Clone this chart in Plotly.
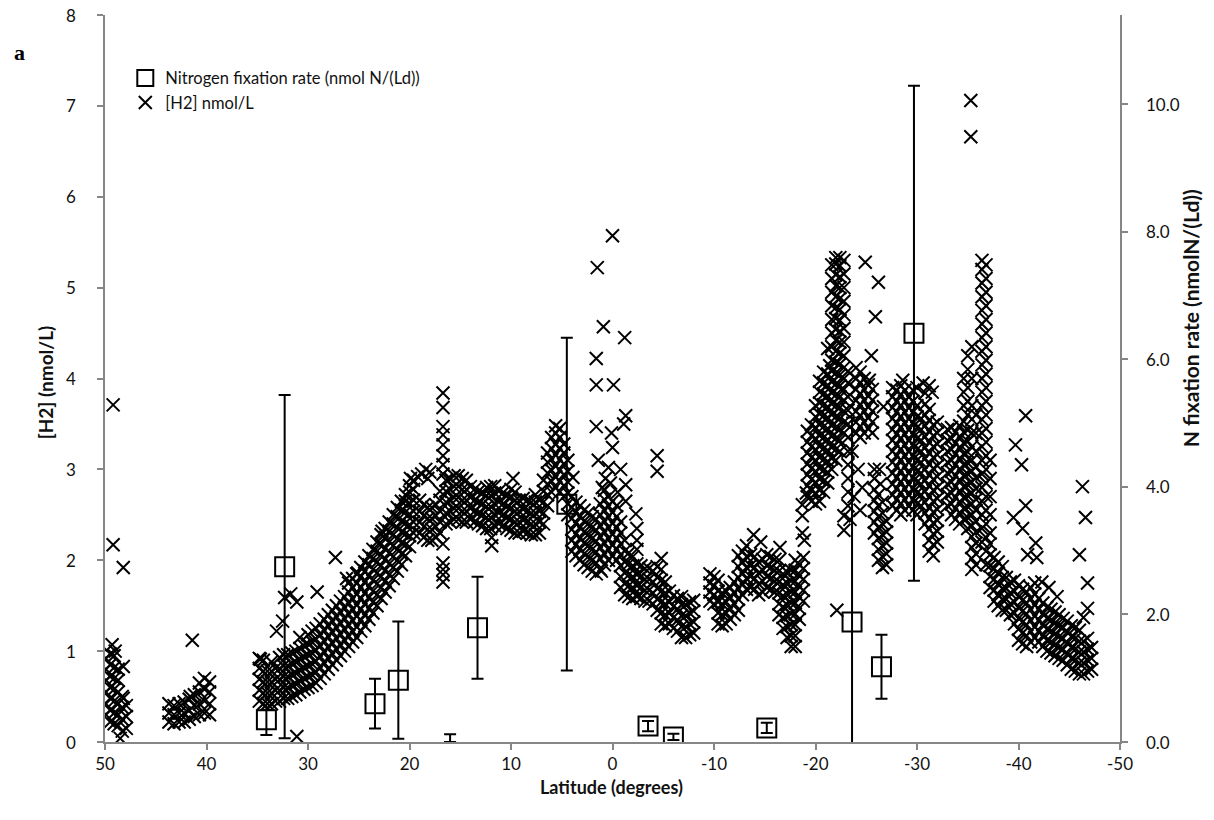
import plotly.graph_objects as go

# ---------------- data ----------------
x_tick_vals = [50, 40, 30, 20, 10, 0, -10, -20, -30, -40, -50]
x_tick_text = ["50", "40", "30", "20", "10", "0", "-10", "-20", "-30", "-40", "-50"]
y_tick_vals = [0, 1, 2, 3, 4, 5, 6, 7, 8]
y_tick_text = ["0", "1", "2", "3", "4", "5", "6", "7", "8"]
y2_tick_vals = [0, 2, 4, 6, 8, 10]
y2_tick_text = ["0.0", "2.0", "4.0", "6.0", "8.0", "10.0"]

# Nitrogen fixation rate (right axis, nmol N/(Ld)) with error bars
nfix_lat = [34.1, 32.3, 23.4, 21.1, 13.3, 4.5, -3.5, -6.0, -15.2, -23.6, -26.5, -29.7]
nfix_rate = [0.35, 2.75, 0.60, 0.97, 1.79, 3.73, 0.25, 0.08, 0.22, 1.88, 1.18, 6.41]
nfix_err_plus = [0.15, 2.69, 0.39, 0.92, 0.80, 2.61, 0.08, 0.05, 0.08, 3.21, 0.50, 3.88]
nfix_err_minus = [0.24, 2.69, 0.39, 0.92, 0.80, 2.61, 0.08, 0.05, 0.08, 3.21, 0.50, 3.88]
# station whose rate sits on the axis (only its error bar is visible)
nfix_zero_lat = [16.0]
nfix_zero_rate = [0.0]
nfix_zero_err = [0.12]

# [H2] survey (left axis, nmol/L): columns of (latitude, values observed at it)
h2_columns = [
    (49.9, [0.30, 0.42, 0.55, 0.68, 0.80, 0.92]),
    (49.5, [0.22, 0.35, 0.48, 0.60, 0.72, 0.85, 0.97]),
    (49.1, [0.20, 0.32, 0.45, 0.58, 0.70, 0.82, 0.95]),
    (48.7, [0.18, 0.30, 0.42, 0.55, 0.68, 0.80]),
    (48.3, [0.12, 0.25, 0.38, 0.50]),
    (47.9, [0.15, 0.28, 0.40]),
    (43.7, [0.22, 0.32, 0.42]),
    (43.2, [0.20, 0.30, 0.40]),
    (42.7, [0.22, 0.32, 0.42]),
    (42.2, [0.22, 0.32, 0.44]),
    (41.7, [0.25, 0.35, 0.47]),
    (41.2, [0.28, 0.40, 0.52]),
    (40.7, [0.30, 0.42, 0.55, 0.65]),
    (40.2, [0.32, 0.45, 0.58, 0.70]),
    (39.7, [0.30, 0.42, 0.55, 0.66]),
    (34.8, [0.45, 0.57, 0.69, 0.81, 0.92]),
    (34.4, [0.42, 0.54, 0.66, 0.78, 0.90]),
    (34.0, [0.42, 0.54, 0.66, 0.78]),
    (33.6, [0.42, 0.54, 0.66, 0.78, 0.88]),
    (33.2, [0.45, 0.57, 0.69, 0.81]),
    (32.8, [0.45, 0.57, 0.69, 0.81, 0.93]),
    (32.4, [0.48, 0.60, 0.72, 0.84, 0.96]),
    (32.0, [0.48, 0.60, 0.72, 0.84, 0.96]),
    (31.6, [0.50, 0.62, 0.74, 0.86, 0.98]),
    (31.2, [0.52, 0.64, 0.76, 0.88, 1.00]),
    (30.8, [0.55, 0.67, 0.79, 0.91, 1.03]),
    (30.4, [0.58, 0.70, 0.82, 0.94, 1.06]),
    (30.0, [0.60, 0.72, 0.84, 0.96, 1.08, 1.18]),
    (29.6, [0.62, 0.74, 0.86, 0.98, 1.10, 1.22]),
    (29.2, [0.65, 0.77, 0.89, 1.01, 1.13, 1.25]),
    (28.8, [0.70, 0.82, 0.94, 1.06, 1.18, 1.30]),
    (28.4, [0.75, 0.87, 0.99, 1.11, 1.23, 1.35]),
    (28.0, [0.80, 0.92, 1.04, 1.16, 1.28, 1.40]),
    (27.6, [0.85, 0.97, 1.09, 1.21, 1.33, 1.45]),
    (27.2, [0.90, 1.02, 1.14, 1.26, 1.38, 1.50]),
    (26.8, [0.95, 1.07, 1.19, 1.31, 1.43, 1.55]),
    (26.4, [1.00, 1.12, 1.24, 1.36, 1.48, 1.60]),
    (26.0, [1.05, 1.17, 1.29, 1.41, 1.53, 1.65, 1.75]),
    (25.6, [1.10, 1.22, 1.34, 1.46, 1.58, 1.70, 1.80]),
    (25.2, [1.15, 1.27, 1.39, 1.51, 1.63, 1.75, 1.85]),
    (24.8, [1.22, 1.34, 1.46, 1.58, 1.70, 1.82, 1.92]),
    (24.4, [1.28, 1.40, 1.52, 1.64, 1.76, 1.88, 1.98]),
    (24.0, [1.35, 1.47, 1.59, 1.71, 1.83, 1.95, 2.05]),
    (23.6, [1.42, 1.54, 1.66, 1.78, 1.90, 2.02, 2.12]),
    (23.2, [1.50, 1.62, 1.74, 1.86, 1.98, 2.10, 2.20]),
    (22.8, [1.58, 1.70, 1.82, 1.94, 2.06, 2.18, 2.28]),
    (22.4, [1.65, 1.77, 1.89, 2.01, 2.13, 2.25, 2.35]),
    (22.0, [1.72, 1.84, 1.96, 2.08, 2.20, 2.32, 2.42]),
    (21.6, [1.80, 1.92, 2.04, 2.16, 2.28, 2.40, 2.50]),
    (21.2, [1.88, 2.00, 2.12, 2.24, 2.36, 2.48, 2.58]),
    (20.8, [1.95, 2.07, 2.19, 2.31, 2.43, 2.55, 2.65]),
    (20.4, [2.05, 2.17, 2.29, 2.41, 2.53, 2.65, 2.72]),
    (20.0, [2.15, 2.27, 2.39, 2.51, 2.63, 2.75, 2.82]),
    (19.6, [2.30, 2.42, 2.54, 2.66, 2.78, 2.88]),
    (19.0, [2.30, 2.42, 2.54, 2.66]),
    (18.6, [2.25, 2.37, 2.49, 2.61]),
    (18.2, [2.22, 2.34, 2.46, 2.58]),
    (17.8, [2.22, 2.34, 2.46, 2.58]),
    (17.4, [2.25, 2.37, 2.49, 2.61]),
    (17.0, [2.30, 2.42, 2.54, 2.66, 2.76]),
    (16.7, [1.76, 1.84, 1.90, 1.97, 2.18, 2.95, 3.05, 3.15, 3.27, 3.38, 3.47, 3.68, 3.84]),
    (16.4, [2.40, 2.52, 2.64, 2.76, 2.88]),
    (16.0, [2.42, 2.54, 2.66, 2.78, 2.90]),
    (15.6, [2.45, 2.57, 2.69, 2.81, 2.93]),
    (15.2, [2.45, 2.57, 2.69, 2.81, 2.93]),
    (14.8, [2.42, 2.54, 2.66, 2.78, 2.90]),
    (14.4, [2.42, 2.54, 2.66, 2.78, 2.88]),
    (14.0, [2.45, 2.57, 2.69, 2.81]),
    (13.6, [2.42, 2.54, 2.66, 2.78]),
    (13.2, [2.40, 2.52, 2.64, 2.76]),
    (12.8, [2.38, 2.50, 2.62, 2.74]),
    (12.4, [2.35, 2.47, 2.59, 2.71, 2.80]),
    (12.0, [2.35, 2.47, 2.59, 2.71, 2.81]),
    (11.6, [2.38, 2.50, 2.62, 2.74, 2.82]),
    (11.2, [2.40, 2.52, 2.64, 2.76]),
    (10.8, [2.38, 2.50, 2.62, 2.74]),
    (10.4, [2.35, 2.47, 2.59, 2.71]),
    (10.0, [2.33, 2.45, 2.57, 2.69, 2.78]),
    (9.6, [2.30, 2.42, 2.54, 2.66, 2.75]),
    (9.2, [2.30, 2.42, 2.54, 2.66]),
    (8.8, [2.32, 2.44, 2.56, 2.68]),
    (8.4, [2.30, 2.42, 2.54, 2.66]),
    (8.0, [2.28, 2.40, 2.52, 2.64]),
    (7.6, [2.28, 2.40, 2.52, 2.64, 2.72]),
    (7.2, [2.30, 2.42, 2.54, 2.66]),
    (6.8, [2.40, 2.52, 2.64, 2.76, 2.88]),
    (6.4, [2.60, 2.72, 2.84, 2.96, 3.08, 3.18]),
    (6.0, [2.75, 2.87, 2.99, 3.11, 3.23, 3.35]),
    (5.6, [2.80, 2.92, 3.04, 3.16, 3.28, 3.40, 3.48]),
    (5.2, [2.75, 2.87, 2.99, 3.11, 3.23, 3.35, 3.45]),
    (4.8, [2.70, 2.82, 2.94, 3.06, 3.18, 3.28]),
    (4.4, [2.50, 2.62, 2.74, 2.86, 2.98, 3.10]),
    (4.0, [2.10, 2.22, 2.34, 2.46, 2.58, 2.70]),
    (3.6, [2.05, 2.17, 2.29, 2.41, 2.53, 2.64]),
    (3.2, [2.00, 2.12, 2.24, 2.36, 2.48, 2.60]),
    (2.8, [1.95, 2.07, 2.19, 2.31, 2.43, 2.55]),
    (2.4, [1.92, 2.04, 2.16, 2.28, 2.40, 2.52]),
    (2.0, [1.88, 2.00, 2.12, 2.24, 2.36, 2.48]),
    (1.6, [1.85, 1.97, 2.09, 2.21, 2.33, 2.45]),
    (1.2, [1.90, 2.02, 2.14, 2.26, 2.38, 2.50, 2.62]),
    (0.8, [1.95, 2.07, 2.19, 2.31, 2.43, 2.55, 2.67, 2.77]),
    (0.4, [2.00, 2.12, 2.24, 2.36, 2.48, 2.60, 2.70]),
    (0.0, [2.05, 2.17, 2.29, 2.41, 2.53, 2.65]),
    (-0.4, [2.00, 2.12, 2.24, 2.36, 2.48, 2.60]),
    (-0.8, [1.70, 1.82, 1.94, 2.06, 2.18, 2.30, 2.42]),
    (-1.2, [1.62, 1.74, 1.86, 1.98, 2.10, 2.22]),
    (-1.6, [1.60, 1.72, 1.84, 1.96, 2.08]),
    (-2.0, [1.58, 1.70, 1.82, 1.94, 2.04]),
    (-2.4, [1.60, 1.72, 1.84, 1.96]),
    (-2.8, [1.58, 1.70, 1.82, 1.94]),
    (-3.2, [1.55, 1.67, 1.79, 1.91]),
    (-3.6, [1.55, 1.67, 1.79, 1.91]),
    (-4.0, [1.52, 1.64, 1.76, 1.88]),
    (-4.4, [1.45, 1.57, 1.69, 1.81, 1.93]),
    (-4.8, [1.30, 1.42, 1.54, 1.66, 1.78, 1.90, 2.02]),
    (-5.2, [1.28, 1.40, 1.52, 1.64, 1.76]),
    (-5.6, [1.30, 1.42, 1.54, 1.66]),
    (-6.0, [1.25, 1.37, 1.49, 1.61]),
    (-6.4, [1.22, 1.34, 1.46, 1.58]),
    (-6.8, [1.15, 1.27, 1.39, 1.51, 1.60]),
    (-7.2, [1.15, 1.27, 1.39, 1.51]),
    (-7.6, [1.18, 1.30, 1.42, 1.54]),
    (-8.0, [1.20, 1.32, 1.44, 1.56]),
    (-9.6, [1.55, 1.65, 1.75, 1.85]),
    (-10.0, [1.52, 1.62, 1.72, 1.82]),
    (-10.4, [1.30, 1.42, 1.54, 1.66, 1.78]),
    (-10.8, [1.28, 1.40, 1.52, 1.64]),
    (-11.2, [1.30, 1.42, 1.54, 1.66]),
    (-11.6, [1.35, 1.47, 1.59, 1.70]),
    (-12.0, [1.40, 1.52, 1.64, 1.76]),
    (-12.4, [1.45, 1.57, 1.69, 1.81, 1.93, 2.05]),
    (-12.8, [1.62, 1.74, 1.86, 1.98, 2.10]),
    (-13.2, [1.68, 1.80, 1.92, 2.04, 2.16]),
    (-13.6, [1.70, 1.82, 1.94, 2.06]),
    (-14.0, [1.68, 1.80, 1.92, 2.04]),
    (-14.4, [1.62, 1.74, 1.86, 1.98]),
    (-14.8, [1.65, 1.77, 1.89, 2.01]),
    (-15.2, [1.70, 1.82, 1.94, 2.06]),
    (-15.6, [1.68, 1.80, 1.92, 2.04]),
    (-16.0, [1.65, 1.77, 1.89, 2.01]),
    (-16.4, [1.40, 1.52, 1.64, 1.76, 1.88, 2.00]),
    (-16.8, [1.25, 1.37, 1.49, 1.61, 1.73, 1.85]),
    (-17.2, [1.15, 1.27, 1.39, 1.51, 1.63, 1.75, 1.87]),
    (-17.6, [1.05, 1.17, 1.29, 1.41, 1.53, 1.65, 1.77, 1.89]),
    (-18.0, [1.05, 1.17, 1.29, 1.41, 1.53, 1.65, 1.77, 1.89, 2.00]),
    (-18.4, [1.35, 1.47, 1.59, 1.71, 1.83, 1.95]),
    (-18.8, [1.55, 1.67, 1.79, 1.91, 2.03]),
    (-19.2, [2.70, 2.82, 2.94, 3.06, 3.18, 3.30, 3.42]),
    (-19.6, [2.65, 2.77, 2.89, 3.01, 3.13, 3.25, 3.37, 3.49]),
    (-20.0, [2.62, 2.74, 2.86, 2.98, 3.10, 3.22, 3.34, 3.46, 3.58, 3.70]),
    (-20.4, [2.65, 2.77, 2.89, 3.01, 3.13, 3.25, 3.37, 3.49, 3.61, 3.73, 3.85, 3.97]),
    (-20.8, [2.75, 2.87, 2.99, 3.11, 3.23, 3.35, 3.47, 3.59, 3.71, 3.83, 3.95, 4.07]),
    (-21.2, [2.85, 2.97, 3.09, 3.21, 3.33, 3.45, 3.57, 3.69, 3.81, 3.93, 4.05]),
    (-21.6, [3.00, 3.12, 3.24, 3.36, 3.48, 3.60, 3.72, 3.84, 3.96, 4.08, 4.20, 4.35, 4.50, 4.65, 4.80, 4.95, 5.10, 5.25]),
    (-22.0, [3.10, 3.22, 3.34, 3.46, 3.58, 3.70, 3.82, 3.94, 4.06, 4.18, 4.30, 4.42, 4.54, 4.66, 4.78, 4.90, 5.02, 5.14, 5.26, 5.33]),
    (-22.4, [3.20, 3.32, 3.44, 3.56, 3.68, 3.80, 3.92, 4.04, 4.16, 4.28, 4.40, 4.52, 4.64, 4.76, 4.88, 5.00, 5.12, 5.24, 5.33]),
    (-22.8, [3.40, 3.52, 3.64, 3.76, 3.88, 4.00, 4.12, 4.25, 4.40, 4.55, 4.70, 4.85, 5.00, 5.15, 5.30]),
    (-23.2, [2.60, 2.75, 2.90, 3.05, 3.20, 3.35, 3.50, 3.65, 3.80, 3.95, 4.08]),
    (-24.0, [3.40, 3.52, 3.64, 3.76, 3.88, 4.00, 4.12]),
    (-24.4, [3.35, 3.47, 3.59, 3.71, 3.83, 3.95, 4.07]),
    (-24.8, [3.40, 3.52, 3.64, 3.76, 3.88, 4.00]),
    (-25.2, [3.45, 3.57, 3.69, 3.81, 3.93]),
    (-25.6, [3.40, 3.52, 3.64, 3.76, 3.88]),
    (-25.8, [2.30, 2.42, 2.54, 2.66, 2.78, 2.90, 3.00]),
    (-26.2, [2.00, 2.12, 2.24, 2.36, 2.48, 2.60, 2.72]),
    (-26.6, [1.92, 2.04, 2.16, 2.28, 2.40, 2.52, 2.64]),
    (-27.0, [1.95, 2.07, 2.19, 2.31, 2.43]),
    (-27.6, [2.60, 2.72, 2.84, 2.96, 3.08, 3.20, 3.32, 3.44, 3.56, 3.68, 3.80, 3.90]),
    (-28.0, [2.55, 2.67, 2.79, 2.91, 3.03, 3.15, 3.27, 3.39, 3.51, 3.63, 3.75, 3.87]),
    (-28.4, [2.50, 2.62, 2.74, 2.86, 2.98, 3.10, 3.22, 3.34, 3.46, 3.58, 3.70, 3.82, 3.92]),
    (-28.8, [2.55, 2.67, 2.79, 2.91, 3.03, 3.15, 3.27, 3.39, 3.51, 3.63, 3.75, 3.87]),
    (-29.2, [2.60, 2.72, 2.84, 2.96, 3.08, 3.20, 3.32, 3.44, 3.56, 3.68, 3.80]),
    (-29.6, [2.55, 2.67, 2.79, 2.91, 3.03, 3.15, 3.27, 3.39, 3.51, 3.63, 3.75, 3.87]),
    (-30.0, [2.50, 2.62, 2.74, 2.86, 2.98, 3.10, 3.22, 3.34, 3.46, 3.58, 3.70]),
    (-30.4, [2.60, 2.72, 2.84, 2.96, 3.08, 3.20, 3.32, 3.44, 3.56]),
    (-30.8, [2.40, 2.52, 2.64, 2.76, 2.88, 3.00, 3.12, 3.24, 3.36, 3.48, 3.60, 3.72, 3.84]),
    (-31.2, [2.10, 2.22, 2.34, 2.46, 2.58, 2.70, 2.82, 2.94, 3.06, 3.18, 3.30, 3.42, 3.54, 3.66]),
    (-31.6, [2.05, 2.17, 2.29, 2.41, 2.53, 2.65, 2.77, 2.89, 3.01, 3.13, 3.25, 3.37, 3.49]),
    (-32.0, [2.20, 2.32, 2.44, 2.56, 2.68, 2.80, 2.92, 3.04, 3.16, 3.28, 3.40, 3.52]),
    (-33.0, [2.60, 2.72, 2.84, 2.96, 3.08, 3.20, 3.32, 3.44]),
    (-33.4, [2.50, 2.62, 2.74, 2.86, 2.98, 3.10, 3.22, 3.34, 3.46]),
    (-33.8, [2.45, 2.57, 2.69, 2.81, 2.93, 3.05, 3.17, 3.29, 3.41]),
    (-34.2, [2.40, 2.52, 2.64, 2.76, 2.88, 3.00, 3.12, 3.24, 3.36, 3.48]),
    (-34.6, [2.45, 2.57, 2.69, 2.81, 2.93, 3.05, 3.17, 3.29, 3.41, 3.53, 3.70, 3.85, 4.00]),
    (-35.0, [2.35, 2.47, 2.59, 2.71, 2.83, 2.95, 3.07, 3.19, 3.31, 3.43, 3.60, 3.75, 3.90, 4.10, 4.25]),
    (-35.4, [1.90, 2.02, 2.14, 2.26, 2.38, 2.50, 2.62, 2.74, 2.86, 2.98, 3.10, 3.25, 3.40, 3.55, 3.70, 4.00, 4.35]),
    (-35.8, [1.95, 2.07, 2.19, 2.31, 2.43, 2.55, 2.67, 2.79, 2.91, 3.03, 3.20, 3.40, 3.60]),
    (-36.4, [2.20, 2.35, 2.50, 2.65, 2.80, 2.95, 3.10, 3.25, 3.40, 3.55, 3.70, 3.85, 4.00, 4.15, 4.30, 4.45, 4.60, 4.75, 4.90, 5.05, 5.20, 5.30]),
    (-36.8, [1.95, 2.10, 2.25, 2.40, 2.55, 2.70, 2.85, 3.00, 3.15, 3.30, 3.45, 3.60, 3.75, 3.90, 4.05, 4.20, 4.35, 4.50, 4.65, 4.80, 4.95, 5.10, 5.25]),
    (-37.2, [1.70, 1.82, 1.94, 2.06, 2.18, 2.30, 2.50, 2.70, 2.90, 3.10]),
    (-37.6, [1.55, 1.67, 1.79, 1.91, 2.03]),
    (-38.0, [1.50, 1.62, 1.74, 1.86, 1.98]),
    (-38.4, [1.45, 1.57, 1.69, 1.81, 1.93]),
    (-38.8, [1.45, 1.57, 1.69, 1.81]),
    (-39.2, [1.40, 1.52, 1.64, 1.76]),
    (-39.6, [1.30, 1.42, 1.54, 1.66, 1.78]),
    (-40.0, [1.12, 1.24, 1.36, 1.48, 1.60, 1.72]),
    (-40.4, [1.08, 1.20, 1.32, 1.44, 1.56, 1.68]),
    (-40.8, [1.05, 1.17, 1.29, 1.41, 1.53, 1.65]),
    (-41.2, [1.10, 1.22, 1.34, 1.46, 1.58, 1.70]),
    (-41.6, [1.15, 1.27, 1.39, 1.51, 1.63, 1.75]),
    (-42.0, [1.10, 1.22, 1.34, 1.46, 1.58]),
    (-42.4, [1.05, 1.17, 1.29, 1.41, 1.53]),
    (-42.8, [1.00, 1.12, 1.24, 1.36, 1.48]),
    (-43.2, [0.98, 1.10, 1.22, 1.34, 1.46]),
    (-43.6, [0.95, 1.07, 1.19, 1.31, 1.43]),
    (-44.0, [0.92, 1.04, 1.16, 1.28, 1.40]),
    (-44.4, [0.90, 1.02, 1.14, 1.26, 1.36]),
    (-44.8, [0.85, 0.97, 1.09, 1.21, 1.33]),
    (-45.2, [0.80, 0.92, 1.04, 1.16, 1.28]),
    (-45.6, [0.78, 0.90, 1.02, 1.14, 1.26]),
    (-46.0, [0.75, 0.87, 0.99, 1.11, 1.23]),
    (-46.4, [0.75, 0.87, 0.99, 1.11]),
    (-46.8, [0.78, 0.90, 1.02, 1.14]),
    (-47.2, [0.80, 0.92, 1.04]),
]

# isolated [H2] samples
h2_out_lat = [49.2, 49.2, 48.2, 49.3, 49.0, 48.2, 48.5, 48.2, 41.4, 41.6,
              34.7, 33.1, 32.3, 32.5, 31.1, 31.7, 30.8, 29.1, 27.3, 26.2, 25.1, 22.7, 19.9, 31.1,
              19.2, 18.8, 18.4, 18.2, 18.0, 9.8, 11.9, 11.9, 3.9,
              0.0, 1.5, 0.9, -1.2, 1.6, 1.6, -0.1, 1.6, -1.3, -1.1, 0.1, 0.0, 1.4, 0.4,
              -1.3, -1.3, -2.3, -2.4, -2.4, -2.4, 1.1, -4.4, -4.4, 0.7, 1.0, 0.2, -0.5, -0.8,
              -13.9, -14.6, -16.5, -18.7, -18.7, -18.7, -19.1, -18.9,
              -21.2, -21.4, -22.8, -22.8, -22.1, -23.4, -23.8, -24.2, -23.6, -24.4, -24.6,
              -24.9, -26.2, -25.9, -25.5, -25.3, -26.7, -26.3, -26.4,
              -30.6, -31.5, -31.2, -28.6, -30.0, -35.3, -35.3,
              -39.7, -40.3, -40.7, -39.5, -40.7, -40.4, -40.9, -41.7, -41.8, -42.3, -43.0, -43.8,
              -46.3, -46.6, -46.0, -46.8, -46.8, -46.4]
h2_out_val = [3.71, 2.17, 1.92, 1.07, 1.00, 0.83, 0.04, 0.48, 1.12, 0.50,
              0.91, 1.22, 1.59, 1.33, 1.54, 1.63, 1.15, 1.65, 2.03, 1.80, 1.86, 2.32, 2.90, 0.06,
              2.92, 2.95, 3.00, 2.90, 2.97, 2.90, 2.16, 2.25, 2.91,
              5.57, 5.22, 4.57, 4.45, 4.22, 3.93, 3.93, 3.47, 3.59, 3.50, 3.40, 3.24, 3.10, 3.02,
              2.83, 2.65, 2.51, 2.35, 2.22, 2.12, 1.88, 3.15, 2.98, 2.90, 2.80, 2.85, 2.75, 3.00,
              2.28, 2.20, 2.14, 2.61, 2.49, 2.30, 2.74, 2.22,
              4.33, 4.14, 2.49, 2.33, 1.45, 2.45, 2.70, 3.00, 3.20, 2.55, 2.80,
              5.28, 5.06, 4.68, 4.25, 3.98, 3.69, 3.00, 2.84,
              3.95, 3.85, 3.92, 3.98, 3.90, 7.06, 6.66,
              3.27, 3.05, 3.59, 2.47, 2.60, 2.35, 2.06, 2.19, 2.03, 1.76, 1.70, 1.60,
              2.81, 2.47, 2.06, 1.75, 1.47, 1.37]

# ---------------- build traces ----------------
h2_lat, h2_val = [], []
for lat, vals in h2_columns:
    for v in vals:
        h2_lat.append(lat)
        h2_val.append(v)
h2_lat += h2_out_lat
h2_val += h2_out_val

FONT = "Lato, 'Open Sans', sans-serif"
AX = "#868686"
TXT = "#111111"

fig = go.Figure()

fig.add_trace(go.Scatter(
    x=nfix_lat, y=nfix_rate, yaxis="y2", mode="markers",
    name="Nitrogen fixation rate (nmol N/(Ld))",
    marker=dict(symbol="square-open", size=19, color="black", line=dict(width=2, color="black")),
    error_y=dict(type="data", symmetric=False, array=nfix_err_plus, arrayminus=nfix_err_minus,
                 color="black", thickness=2, width=6),
))
fig.add_trace(go.Scatter(
    x=nfix_zero_lat, y=nfix_zero_rate, yaxis="y2", mode="markers", showlegend=False,
    marker=dict(size=1, color="rgba(0,0,0,0)"),
    error_y=dict(type="data", symmetric=False, array=nfix_zero_err, arrayminus=[0],
                 color="black", thickness=2, width=6),
))
fig.add_trace(go.Scatter(
    x=h2_lat, y=h2_val, mode="markers", name="[H2] nmol/L",
    marker=dict(symbol="x-thin", size=13, color="black", line=dict(width=2, color="black")),
))

axis_common = dict(showgrid=False, zeroline=False, showline=True, linecolor=AX, linewidth=1.5,
                   ticks="outside", ticklen=6, tickcolor=AX, tickwidth=1.5,
                   tickfont=dict(size=17, color=TXT))

# y tick labels set further from the axis lines, as in the reference
tick_annots = []
for v, t in zip(y_tick_vals, y_tick_text):
    tick_annots.append(dict(text=t, xref="paper", yref="y", x=0, y=v, xanchor="right",
                            yanchor="middle", xshift=-27, showarrow=False,
                            font=dict(size=17, color=TXT)))
for v, t in zip(y2_tick_vals, y2_tick_text):
    tick_annots.append(dict(text=t, xref="paper", yref="y2", x=1, y=v, xanchor="left",
                            yanchor="middle", xshift=24, showarrow=False,
                            font=dict(size=17, color=TXT)))

fig.update_layout(
    width=1214, height=820,
    margin=dict(l=105, r=94, t=15, b=78, autoexpand=False),
    paper_bgcolor="white", plot_bgcolor="white",
    font=dict(family=FONT, size=16, color=TXT),
    showlegend=True,
    legend=dict(x=0.02, y=0.937, xanchor="left", yanchor="top",
                bgcolor="rgba(0,0,0,0)", font=dict(size=16.5, color=TXT),
                tracegroupgap=0, itemwidth=30),
    xaxis=dict(range=[50, -50], tickvals=x_tick_vals, ticktext=x_tick_text, **axis_common),
    yaxis=dict(range=[0, 8], tickvals=y_tick_vals, showticklabels=False, **axis_common),
    yaxis2=dict(range=[0, 11.4], overlaying="y", side="right", tickvals=y2_tick_vals,
                showticklabels=False, **axis_common),
    annotations=tick_annots + [
        dict(text="<b>a</b>", xref="paper", yref="paper", x=-0.0847, y=0.949,
             xanchor="center", yanchor="middle", showarrow=False,
             font=dict(family="Liberation Serif", size=22, color="black")),
        dict(text="<b>Latitude (degrees)</b>", xref="paper", yref="paper", x=0.4995, y=-0.062,
             xanchor="center", yanchor="middle", showarrow=False,
             font=dict(size=18, color=TXT)),
        dict(text="<b>[H2] (nmol/L)</b>", xref="paper", yref="paper", x=-0.059, y=0.495,
             xanchor="center", yanchor="middle", textangle=-90, showarrow=False,
             font=dict(size=19, color=TXT)),
        dict(text="<b>N fixation rate (nmolN/(Ld))</b>", xref="paper", yref="paper",
             x=1.069, y=0.583, xanchor="center", yanchor="middle", textangle=-90,
             showarrow=False, font=dict(size=21, color=TXT)),
    ],
)

fig.write_html("out.html")
